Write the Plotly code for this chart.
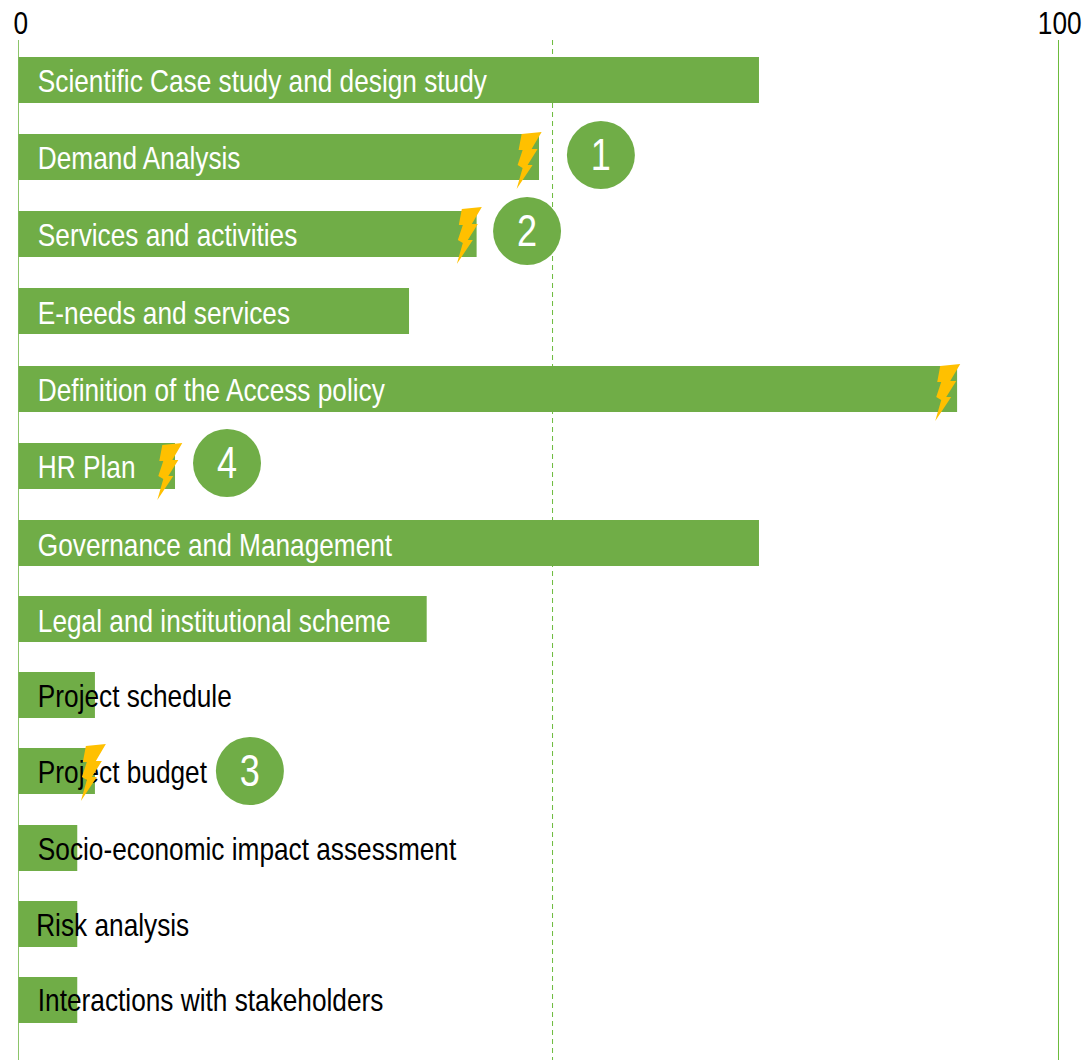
import plotly.graph_objects as go

# Work-package completion, percent
tasks = ["Scientific Case study and design study", "Demand Analysis", "Services and activities",
         "E-needs and services", "Definition of the Access policy", "HR Plan",
         "Governance and Management", "Legal and institutional scheme", "Project schedule",
         "Project budget", "Socio-economic impact assessment", "Risk analysis",
         "Interactions with stakeholders"]
progress = [71.2, 50.05, 44.05, 37.55, 90.25, 15.05, 71.2, 39.25, 7.35, 7.35, 5.65, 5.65, 5.65]
row_y = [80, 157, 234, 311, 389, 466, 543, 619, 695, 771, 848, 924, 1000]
label_colors = ["white"] * 8 + ["black"] * 5
label_x = [1.86] * 11 + [1.7, 1.86]
label_y = [84, 161, 238, 316, 393, 470, 548, 624, 699, 775, 852, 928, 1003]

midline = 51.35

# Axis end labels
tick_values = [0, 100]
tick_labels = ["0", "100"]
tick_shift = [2, 1]

# Numbered callouts
callout_text = ["1", "2", "3", "4"]
callout_x = [56.0, 48.9, 22.25, 20.05]
callout_y = [155, 231, 771, 463]
callout_text_y = [159.5, 235.5, 775.5, 467.5]

# Lightning bolts: top-right tip on the axes, outline as pixel offsets from that tip
bolt_tip_x = [50.3, 44.55, 90.55, 15.75, 8.4]
bolt_tip_y = [132, 207, 364, 443, 744]
bolt_dx = [-20, 0, -10, -4, -14, -9, -25, -19, -24, -19, -23]
bolt_dy = [2, 0, 17, 17, 33, 33, 57, 36, 33, 18, 18]

GREEN = "#70AD47"
AMBER = "#FFC000"
FONT = "Liberation Sans"

# No narrow face is installed, so the regular one is condensed horizontally after drawing
CONDENSE_TEXT = """
document.querySelectorAll('svg text').forEach(function (t) {
  var x = parseFloat(t.getAttribute('x')) || 0;
  var prior = t.getAttribute('transform') || '';
  t.setAttribute('transform', prior + ' translate(' + x + ',0) scale(0.82,1) translate(' + (-x) + ',0)');
});
"""

fig = go.Figure()

fig.add_trace(go.Bar(x=progress, y=row_y, orientation="h", width=46,
                     marker=dict(color=GREEN, line=dict(width=0)), hoverinfo="skip"))
fig.add_trace(go.Scatter(x=label_x, y=label_y, mode="text", text=tasks, textposition="middle right",
                         textfont=dict(family=FONT, size=32, color=label_colors), hoverinfo="skip"))
fig.add_trace(go.Scatter(x=callout_x, y=callout_y, mode="markers",
                         marker=dict(size=68, color=GREEN, line=dict(width=0)), hoverinfo="skip"))
fig.add_trace(go.Scatter(x=callout_x, y=callout_text_y, mode="text", text=callout_text,
                         textposition="middle center",
                         textfont=dict(family=FONT, size=44, color="white"), hoverinfo="skip"))

# Reference lines sit behind the bars
for x, color, dash in [(0, "#8CC46A", "solid"), (100, "#6CBB3C", "solid"), (midline, "#6CBB3C", "5px,4px")]:
    fig.add_shape(type="line", x0=x, x1=x, y0=40, y1=1060, layer="below",
                  line=dict(color=color, width=1, dash=dash))

for tx, ty in zip(bolt_tip_x, bolt_tip_y):
    path = "M " + " L ".join(f"{dx} {-dy}" for dx, dy in zip(bolt_dx, bolt_dy)) + " Z"
    fig.add_shape(type="path", path=path, xsizemode="pixel", ysizemode="pixel",
                  xanchor=tx, yanchor=ty, fillcolor=AMBER, line=dict(width=0), layer="above")

for value, label, shift in zip(tick_values, tick_labels, tick_shift):
    fig.add_annotation(x=value, y=23, xref="x", yref="y", text=label, showarrow=False, xshift=shift,
                       font=dict(family=FONT, size=32, color="black"), yanchor="middle")

plot_width = 1084
fig.update_layout(
    width=plot_width, height=1062, margin=dict(l=0, r=0, t=0, b=0),
    paper_bgcolor="white", plot_bgcolor="white", showlegend=False,
    xaxis=dict(range=[-18.5 / 10.4, (plot_width - 18.5) / 10.4], visible=False),
    yaxis=dict(range=[1062, 0], visible=False),
)

fig.write_html("out.html", config=dict(displayModeBar=False), post_script=CONDENSE_TEXT)
